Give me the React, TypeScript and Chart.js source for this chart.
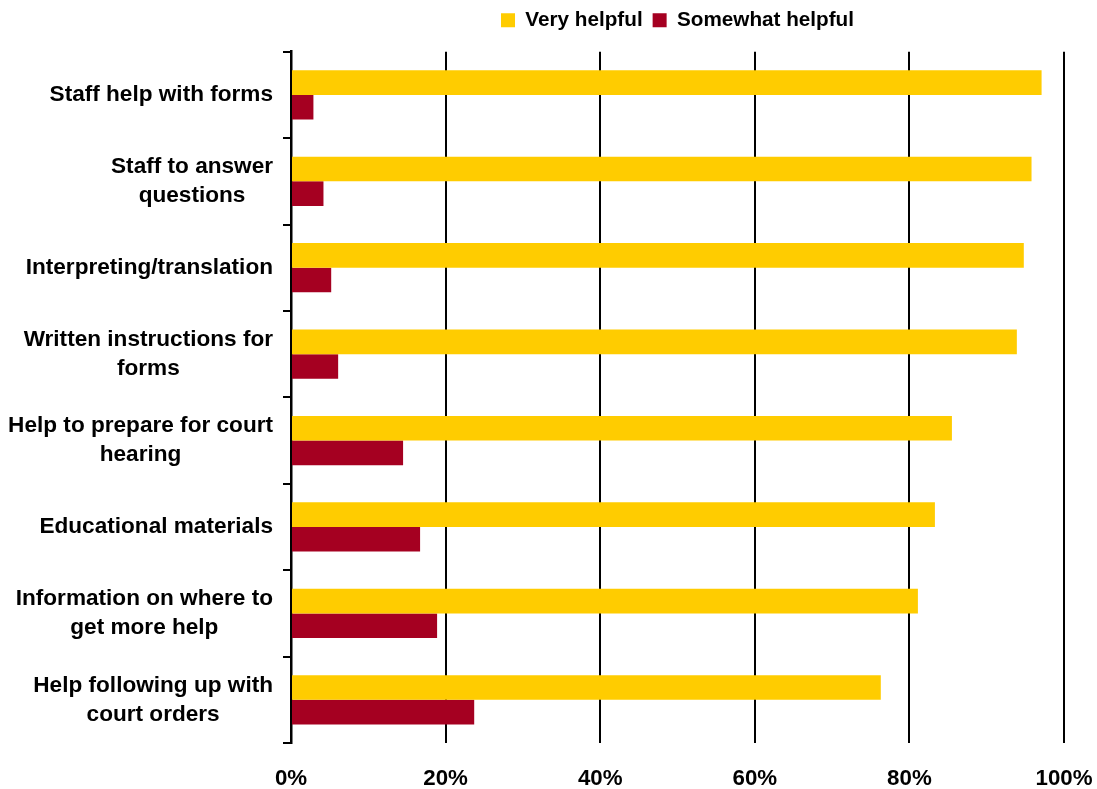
import React, { useEffect, useRef } from "react";
import { Chart, registerables } from "chart.js";

Chart.register(...registerables);

const categories: string[][] = [
  ["Staff help with forms"],
  ["Staff to answer", "questions"],
  ["Interpreting/translation"],
  ["Written instructions for", "forms"],
  ["Help to prepare for court", "hearing"],
  ["Educational materials"],
  ["Information on where to", "get more help"],
  ["Help following up with", "court orders"],
];

const veryHelpful = [97.1, 95.8, 94.8, 93.9, 85.5, 83.3, 81.1, 76.3];
const somewhatHelpful = [2.9, 4.2, 5.2, 6.1, 14.5, 16.7, 18.9, 23.7];

const xTicks = [0, 20, 40, 60, 80, 100];

const FONT = "'Liberation Sans', Arial, sans-serif";

const legendGapPlugin = {
  id: "legendGapPlugin",
  beforeLayout(chart: any) {
    const lg = chart.legend;
    if (lg && !lg._gapPatched) {
      const orig = lg.fit.bind(lg);
      lg.fit = function () {
        orig();
        this.height += 11;
      };
      lg._gapPatched = true;
    }
  },
};

const yLabelPlugin = {
  id: "yLabelPlugin",
  afterDraw(chart: any) {
    const ctx = chart.ctx as CanvasRenderingContext2D;
    const yScale = chart.scales.y;
    const rightEdge = chart.chartArea.left - 18;
    ctx.save();
    ctx.font = `bold 22.6px ${FONT}`;
    ctx.fillStyle = "#000000";
    ctx.textAlign = "center";
    ctx.textBaseline = "middle";
    const lh = 29;
    categories.forEach((lines, i) => {
      const cy = yScale.getPixelForValue(i);
      const w = Math.max(...lines.map((l) => ctx.measureText(l).width));
      const cx = rightEdge - w / 2;
      const start = cy - ((lines.length - 1) * lh) / 2;
      lines.forEach((l, j) => {
        ctx.fillText(l, cx, start + j * lh);
      });
    });
    ctx.restore();
  },
};

export default function App() {
  const ref = useRef<HTMLCanvasElement | null>(null);

  useEffect(() => {
    if (!ref.current) return;
    const chart = new Chart(ref.current, {
      type: "bar",
      data: {
        labels: categories.map((c) => c.join(" ")),
        datasets: [
          {
            label: "Very helpful",
            data: veryHelpful,
            backgroundColor: "#FFCC00",
            borderWidth: 0,
            barPercentage: 1,
            categoryPercentage: 0.57,
          },
          {
            label: "Somewhat helpful",
            data: somewhatHelpful,
            backgroundColor: "#A50021",
            borderWidth: 0,
            barPercentage: 1,
            categoryPercentage: 0.57,
          },
        ],
      },
      options: {
        indexAxis: "y",
        responsive: false,
        animation: false,
        layout: { padding: { left: 0, right: 33, top: 0, bottom: 0 } },
        plugins: {
          tooltip: { enabled: false },
          legend: {
            display: true,
            position: "top",
            fullSize: false,
            labels: {
              boxWidth: 14,
              boxHeight: 14,
              padding: 10,
              color: "#000000",
              font: { family: FONT, size: 20.7, weight: "bold" },
            },
          },
        },
        scales: {
          x: {
            type: "linear",
            min: 0,
            max: 100,
            afterBuildTicks: (axis: any) => {
              axis.ticks = xTicks.map((v) => ({ value: v }));
            },
            afterFit: (axis: any) => {
              axis.height = 46;
              axis.paddingLeft = 0;
              axis.paddingRight = 0;
            },
            ticks: {
              callback: (v: any) => v + "%",
              color: "#000000",
              font: { family: FONT, size: 22.3, weight: "bold" },
              padding: 22,
              maxRotation: 0,
            },
            grid: {
              color: "#000000",
              lineWidth: 2,
              drawTicks: false,
            },
            border: { display: false },
          },
          y: {
            type: "category",
            offset: true,
            afterFit: (axis: any) => {
              axis.width = 291;
              axis.paddingTop = 0;
              axis.paddingBottom = 0;
            },
            ticks: {
              color: "rgba(0,0,0,0)",
              font: { family: FONT, size: 22, weight: "bold" },
            },
            grid: {
              offset: true,
              drawOnChartArea: false,
              drawTicks: true,
              tickLength: 8,
              color: "#000000",
              lineWidth: 2,
            },
            border: { display: true, color: "#000000", width: 2.5 },
          },
        },
      },
      plugins: [legendGapPlugin, yLabelPlugin],
    } as any);
    return () => chart.destroy();
  }, []);

  return (
    <div style={{ position: "fixed", left: 0, top: 0, width: 1097, height: 789, background: "#ffffff" }}>
      <canvas ref={ref} width={1097} height={789} />
    </div>
  );
}
